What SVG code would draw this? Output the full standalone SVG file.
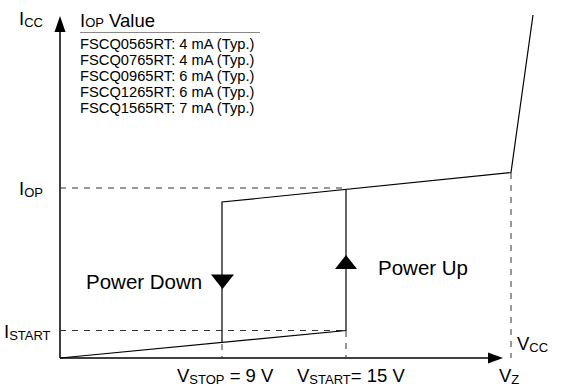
<svg xmlns="http://www.w3.org/2000/svg" width="575" height="386" viewBox="0 0 575 386">
<style>
text{font-family:"Liberation Sans",Arial,sans-serif;fill:#000}
.ax{stroke:#000;stroke-width:1.5;fill:none}
.ln{stroke:#000;stroke-width:1.2;fill:none}
.dash{stroke:#333;stroke-width:1;stroke-dasharray:6,6;fill:none}
.big{font-size:18.5px}
.sub{font-size:13px}
.tab{font-size:14.7px}
.lbl{font-size:20.5px}
</style>
<rect width="575" height="386" fill="#fff"/>
<g id="axes">
<line class="ax" x1="60" y1="358" x2="60" y2="28"/>
<polygon points="60,16 54.5,32 65.5,32" fill="#000"/>
<line class="ax" x1="60" y1="358" x2="490" y2="358"/>
<polygon points="503,358 488,352.5 488,363.5" fill="#000"/>
</g>
<g id="guides">
<polyline class="dash" points="60,188 346,188"/>
<polyline class="dash" points="60,330.5 346,330.5"/>
<line class="dash" x1="346" y1="331" x2="346" y2="358"/>
<line class="dash" x1="222" y1="344" x2="222" y2="358"/>
<line class="dash" x1="511" y1="173" x2="511" y2="358"/>
</g>
<g id="connectors">
<polyline class="ln" points="60,358 346,330.5 346,189"/>
<polyline class="ln" points="222,343 222,202 511,172.5 533,15"/>
<polygon points="211,274.5 234,274.5 222.5,289" fill="#000"/>
<polygon points="335,269 357,269 346,255" fill="#000"/>
</g>
<g id="labels">
<text x="19" y="25" class="big">I<tspan class="sub" dy="1.5">CC</tspan></text>
<text x="80" y="27" class="big">I<tspan class="sub">OP</tspan> Value</text>
<line x1="80" y1="32.5" x2="260" y2="32.5" stroke="#888" stroke-width="1"/>
<text x="80" y="49" class="tab">FSCQ0565RT: 4 mA (Typ.)</text>
<text x="80" y="65" class="tab">FSCQ0765RT: 4 mA (Typ.)</text>
<text x="80" y="81" class="tab">FSCQ0965RT: 6 mA (Typ.)</text>
<text x="80" y="97" class="tab">FSCQ1265RT: 6 mA (Typ.)</text>
<text x="80" y="113" class="tab">FSCQ1565RT: 7 mA (Typ.)</text>
<text x="19" y="195" class="big">I<tspan class="sub" dy="1.5">OP</tspan></text>
<text x="4" y="338" class="big">I<tspan class="sub" dy="1.5">START</tspan></text>
<text x="517" y="350" class="big">V<tspan class="sub" dy="1.5">CC</tspan></text>
<text x="177" y="382" class="big">V<tspan class="sub" dy="1.5">STOP</tspan><tspan dy="-1.5"> = 9 V</tspan></text>
<text x="297" y="382" class="big">V<tspan class="sub" dy="1.5">START</tspan><tspan dy="-1.5">= 15 V</tspan></text>
<text x="499" y="382" class="big">V<tspan class="sub" dy="1.5">Z</tspan></text>
<text x="86" y="289" class="lbl">Power Down</text>
<text x="378" y="275" class="lbl">Power Up</text>
</g>
</svg>
